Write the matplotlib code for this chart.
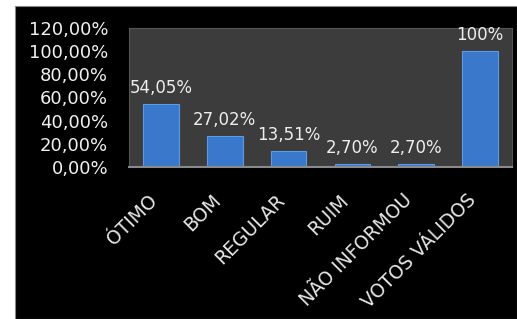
import matplotlib.pyplot as plt
from matplotlib.patches import Rectangle
from matplotlib.ticker import FuncFormatter

categories = ["ÓTIMO", "BOM", "REGULAR", "RUIM", "NÃO INFORMOU", "VOTOS VÁLIDOS"]
values = [54.05, 27.02, 13.51, 2.70, 2.70, 100]
value_labels = ["54,05%", "27,02%", "13,51%", "2,70%", "2,70%", "100%"]
y_ticks = [0, 20, 40, 60, 80, 100, 120]

W, H = 517, 319
fig = plt.figure(figsize=(W / 100, H / 100), dpi=100, facecolor="white")

# black card behind the chart
fig.patches.append(Rectangle((15 / W, 0), 1 - 15 / W, 1 - 6 / H,
                             transform=fig.transFigure, facecolor="black",
                             edgecolor="#888888", linewidth=0.8, zorder=-1))

ax = fig.add_axes([129 / W, 1 - 167 / H, (512 - 129) / W, (167 - 28) / H])
ax.set_zorder(1)
ax.set_facecolor("#3c3c3c")

x = range(len(categories))
ax.bar(x, values, width=0.56, color="#3a78cc", edgecolor="#5b9be8",
       linewidth=0.8, zorder=2)

for xi, v, lab in zip(x, values, value_labels):
    ax.annotate(lab, (xi, v), xytext=(0, 5), textcoords="offset points",
                ha="center", va="bottom", color="#eeeeee", fontsize=12)

ax.set_xlim(-0.5, len(categories) - 0.5)
ax.set_ylim(0, 120)
ax.set_yticks(y_ticks)
ax.yaxis.set_major_formatter(FuncFormatter(lambda v, p: f"{v:.2f}%".replace(".", ",")))
ax.set_xticks(list(x))
ax.set_xticklabels(categories, rotation=45, ha="right")

ax.tick_params(axis="y", length=0, pad=15, labelsize=13, labelcolor="#f0f0f0")
ax.tick_params(axis="x", length=0, pad=17, labelsize=13.5, labelcolor="#e6e6e6")

for side in ["top", "right", "left"]:
    ax.spines[side].set_color("#555555")
ax.spines["bottom"].set_color("#8a8a8a")
ax.spines["bottom"].set_linewidth(1.5)

fig.savefig("out.png", dpi=100, facecolor=fig.get_facecolor())
